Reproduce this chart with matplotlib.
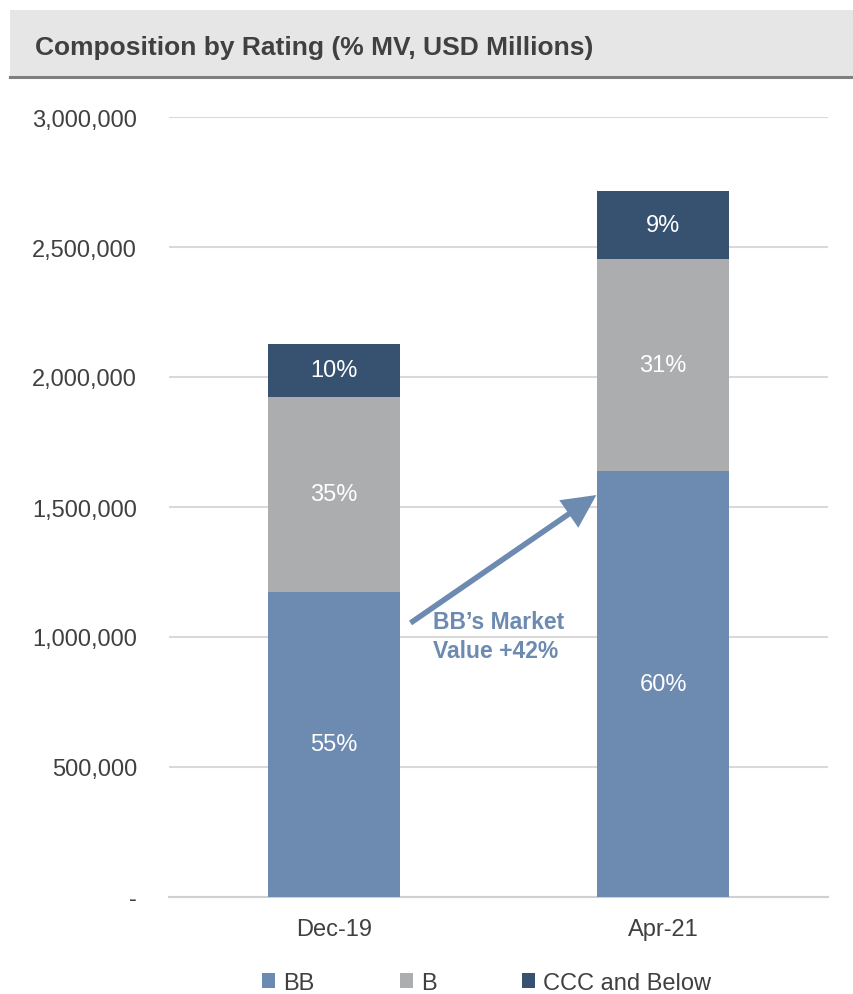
import matplotlib

matplotlib.use("Agg")

import matplotlib.pyplot as plt
import numpy as np
from matplotlib.patches import Rectangle
from matplotlib.lines import Line2D

# Market value by rating bucket, USD millions
categories = ["Dec-19", "Apr-21"]
series_names = ["BB", "B", "CCC and Below"]
bb_values = [1_175_000, 1_637_000]
b_values = [748_000, 815_000]
ccc_values = [205_000, 263_000]
pct_labels = [["55%", "60%"], ["35%", "31%"], ["10%", "9%"]]

y_ticks = [0, 500_000, 1_000_000, 1_500_000, 2_000_000, 2_500_000, 3_000_000]
y_tick_labels = ["-", "500,000", "1,000,000", "1,500,000", "2,000,000", "2,500,000", "3,000,000"]

title = "Composition by Rating (% MV, USD Millions)"
note = "BB\u2019s Market\nValue +42%"

FONT = ["Liberation Sans", "DejaVu Sans"]
TEXT = "#404040"
colors = ["#6d8bb0", "#acadaf", "#375271"]
LABEL_SIZE = 17

plt.rcParams["font.family"] = FONT

fig = plt.figure(figsize=(8.54, 9.95), dpi=100)
fig.patch.set_facecolor("#ffffff")

# header band with a dark rule underneath
fig.patches.append(
    Rectangle((10 / 854, 1 - 78 / 995), 1.0, 67 / 995,
              transform=fig.transFigure, facecolor="#e6e6e6", edgecolor="none", zorder=0)
)
fig.lines.append(
    Line2D([10 / 854, 1.0], [1 - 78 / 995, 1 - 78 / 995],
           transform=fig.transFigure, color="#7f7f7f", linewidth=2.2)
)
fig.text(35 / 854, 1 - 48 / 995, title, fontsize=19, fontweight="bold",
         color=TEXT, ha="left", va="center")

ax = fig.add_axes([169 / 854, 1 - 898 / 995, (828 - 169) / 854, 780 / 995])

x = np.arange(len(categories))
width = 0.40
bottom = np.zeros(len(categories))
for values, name, color, labels in zip([bb_values, b_values, ccc_values], series_names, colors, pct_labels):
    vals = np.array(values, dtype=float)
    ax.bar(x, vals, width, bottom=bottom, color=color, label=name, zorder=3)
    for xi, v, b, lab in zip(x, vals, bottom, labels):
        ax.text(xi, b + v / 2, lab, ha="center", va="center", color="white",
                fontsize=LABEL_SIZE, zorder=4)
    bottom += vals

ax.set_xlim(-0.5, len(categories) - 0.5)
ax.set_ylim(0, 3_000_000)
ax.set_yticks(y_ticks)
ax.set_yticklabels(y_tick_labels)
ax.set_xticks(x)
ax.set_xticklabels(categories)
ax.tick_params(axis="y", length=0, pad=23, labelsize=LABEL_SIZE, labelcolor=TEXT)
ax.tick_params(axis="x", length=0, pad=15, labelsize=LABEL_SIZE, labelcolor=TEXT)

ax.grid(axis="y", color="#d9d9d9", linewidth=1.5, zorder=0)
ax.set_axisbelow(True)
for side in ["top", "right", "left"]:
    ax.spines[side].set_visible(False)
ax.spines["bottom"].set_color("#d0d0d0")
ax.spines["bottom"].set_linewidth(1.5)

# growth arrow between the BB segments
ax.annotate(
    "",
    xy=(0.797, 1_546_000),
    xytext=(0.233, 1_054_000),
    arrowprops={
        "arrowstyle": "-|>,head_length=0.8,head_width=0.4",
        "color": colors[0],
        "linewidth": 4.0,
        "shrinkA": 0,
        "shrinkB": 0,
        "mutation_scale": 22,
        "joinstyle": "miter",
        "capstyle": "butt",
    },
    zorder=5,
)
ax.text(0.3, 1_005_000, note, color=colors[0], fontsize=16.5, fontweight="bold",
        ha="left", va="center", linespacing=1.35, zorder=5)

ax.legend(
    loc="center",
    bbox_to_anchor=(0.482, -0.11),
    ncol=3,
    frameon=False,
    fontsize=LABEL_SIZE,
    labelcolor=TEXT,
    handlelength=0.55,
    handleheight=0.55,
    handletextpad=0.35,
    columnspacing=3.6,
)

fig.savefig("out.png", dpi=100, facecolor=fig.get_facecolor())
plt.close(fig)
